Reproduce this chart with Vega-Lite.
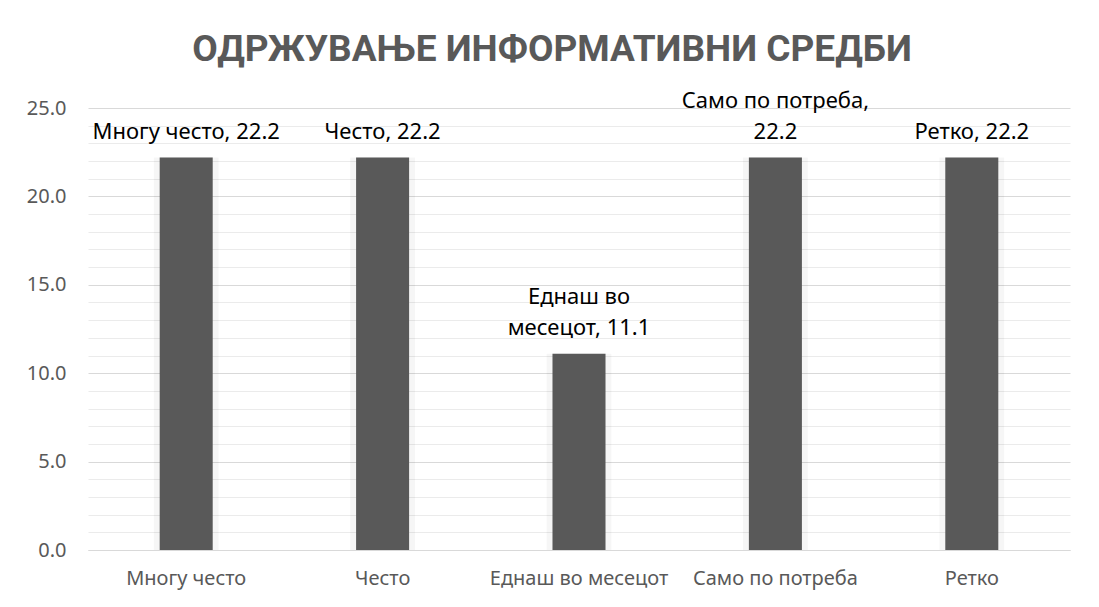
{
  "$schema": "https://vega.github.io/schema/vega-lite/v6.json",
  "autosize": {"type": "none"},
  "width": 982,
  "height": 442,
  "padding": {"left": 88, "top": 108, "right": 29, "bottom": 57},
  "background": "white",
  "config": {"view": {"stroke": null}, "font": "Noto Sans"},
  "title": {
    "text": "ОДРЖУВАЊЕ ИНФОРМАТИВНИ СРЕДБИ",
    "fontSize": 37,
    "fontWeight": "bold",
    "color": "#595959",
    "font": "Roboto",
    "offset": 21,
    "dx": -27,
    "anchor": "middle"
  },
  "data": {
    "values": [
      {"category": "Многу често", "value": 22.2, "line1": "", "line2": "Многу често, 22.2"},
      {"category": "Често", "value": 22.2, "line1": "", "line2": "Често, 22.2"},
      {"category": "Еднаш во месецот", "value": 11.1, "line1": "Еднаш во", "line2": "месецот, 11.1"},
      {"category": "Само по потреба", "value": 22.2, "line1": "Само по потреба,", "line2": "22.2"},
      {"category": "Ретко", "value": 22.2, "line1": "", "line2": "Ретко, 22.2"}
    ]
  },
  "encoding": {
    "x": {
      "field": "category",
      "type": "nominal",
      "sort": null,
      "scale": {"paddingInner": 0, "paddingOuter": 0},
      "axis": {
        "title": null,
        "labelAngle": 0,
        "labelFontSize": 20,
        "labelColor": "#595959",
        "labelPadding": 18,
        "ticks": false,
        "domainColor": "#d9d9d9",
        "domainWidth": 1
      }
    },
    "y": {
      "field": "value",
      "type": "quantitative",
      "scale": {"domain": [0, 25], "nice": false},
      "axis": {
        "title": null,
        "values": [0,1,2,3,4,5,6,7,8,9,10,11,12,13,14,15,16,17,18,19,20,21,22,23,24,25],
        "labelExpr": "datum.value % 5 === 0 ? format(datum.value, '.1f') : ''",
        "labelFontSize": 20,
        "labelColor": "#595959",
        "labelPadding": 22,
        "ticks": false,
        "domain": false,
        "gridColor": {"condition": {"test": "datum.value % 5 === 0", "value": "#d9d9d9"}, "value": "#ebebeb"},
        "gridWidth": 1.2
      }
    }
  },
  "layer": [
    {
      "mark": {"type": "bar", "width": {"band": 0.33}, "color": "#000000", "opacity": 0.035}
    },
    {
      "mark": {"type": "bar", "width": {"band": 0.27}, "color": "#595959"}
    },
    {
      "mark": {"type": "text", "baseline": "alphabetic", "dy": -50, "fontSize": 22, "color": "#000000"},
      "encoding": {"text": {"field": "line1"}}
    },
    {
      "mark": {"type": "text", "baseline": "alphabetic", "dy": -19, "fontSize": 22, "color": "#000000"},
      "encoding": {"text": {"field": "line2"}}
    }
  ]
}
